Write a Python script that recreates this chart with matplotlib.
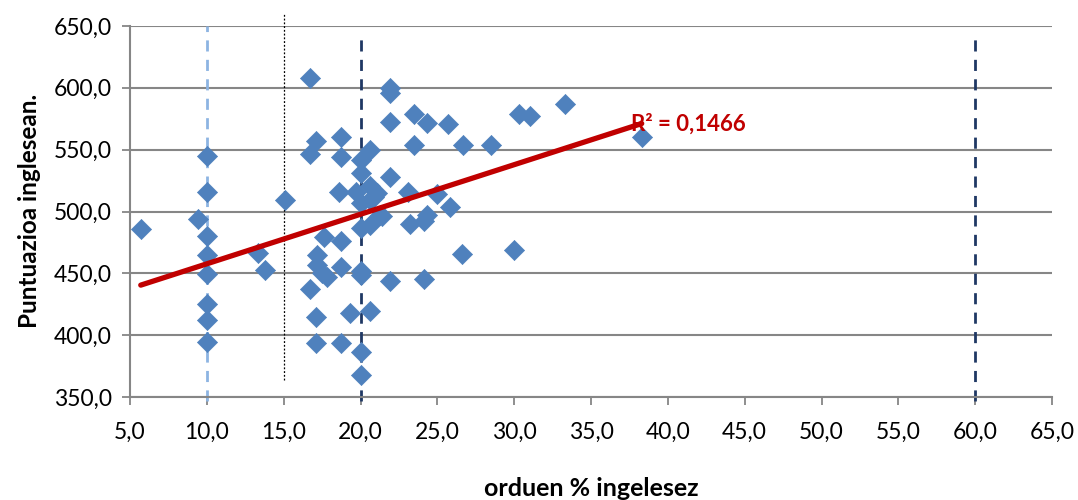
import numpy as np
import matplotlib
matplotlib.use("Agg")
import matplotlib.pyplot as plt
from matplotlib.ticker import FuncFormatter, MultipleLocator

# Data
hours_pct = [5.7, 10.0, 10.0, 9.4, 10.0, 10.0, 10.0, 10.0, 10.0, 10.0,
             13.35, 13.8, 15.1, 16.7, 21.9, 21.9, 21.9, 23.5, 24.3, 25.7,
             17.1, 18.76, 16.7, 18.76, 20.6, 23.5, 20.0, 20.0, 21.9, 18.6,
             19.7, 20.6, 21.1, 20.9, 20.0, 20.6, 23.1, 25.0, 25.8, 21.3,
             20.0, 20.6, 21.4, 23.2, 24.1, 24.3, 17.6, 18.7, 17.2, 17.2,
             17.8, 17.5, 18.7, 20.0, 20.0, 21.9, 24.1, 16.7, 17.1, 19.3,
             20.65, 17.1, 18.7, 20.0, 20.0, 26.7, 28.5, 30.3, 31.05, 33.3,
             26.6, 30.0, 38.3]
scores = [486, 545, 515.6, 494, 480.5, 465, 449.3, 425, 412.3, 394.7,
          466.8, 452.7, 509, 608.3, 600, 596, 572.7, 578.7, 571.4, 571,
          557, 560, 546.6, 544, 549.8, 553.9, 541.7, 531.5, 527.8, 515.5,
          516, 520.5, 514.8, 512, 506.7, 509, 516, 514, 504, 497,
          486.5, 489, 496, 490, 492, 497, 479.7, 476.5, 464.9, 456.8,
          446.8, 450.3, 455.4, 452.2, 449, 443.9, 445.5, 437.4, 414.5, 417.6,
          419.6, 393.9, 393.9, 386.7, 367.8, 553.9, 553.9, 578.7, 577.6, 587,
          465.7, 468.9, 560.6]
r2_label = "R² = 0,1466"
x_label = "orduen % ingelesez"
y_label = "Puntuazioa inglesean."

x = np.array(hours_pct)
y = np.array(scores)

plt.rcParams['font.family'] = ['Lato', 'DejaVu Sans']

fig = plt.figure(figsize=(10.78, 5.0), dpi=100)
ax = fig.add_axes([130/1078, 103/500, (1052-130)/1078, (397-26)/500])

ax.set_xlim(5, 65)
ax.set_ylim(350, 650)
ax.xaxis.set_major_locator(MultipleLocator(5))
ax.yaxis.set_major_locator(MultipleLocator(50))
fmt = FuncFormatter(lambda v, p: f"{v:.1f}".replace(".", ","))
ax.xaxis.set_major_formatter(fmt)
ax.yaxis.set_major_formatter(fmt)

ax.grid(axis='y', color='#868686', linewidth=1.5, zorder=0)
for s in ['top', 'right']:
    ax.spines[s].set_visible(False)
for s in ['left', 'bottom']:
    ax.spines[s].set_color('#868686')
    ax.spines[s].set_linewidth(1.5)
ax.tick_params(axis='both', colors='#868686', length=6, width=1.3,
               labelcolor='black', labelsize=16.5)
ax.tick_params(axis='x', pad=12)
ax.tick_params(axis='y', pad=7)

# reference lines
ax.plot([10, 10], [347, 650], color='#8DB4E2', lw=2, ls=(0, (4, 3)), zorder=2, clip_on=False)
ax.plot([15.05, 15.05], [364, 660], color='black', lw=0.9, ls=(0, (1.5, 1.5)), zorder=2, clip_on=False)
ax.plot([20, 20], [347, 645], color='#1F3864', lw=2, ls=(0, (4, 3)), zorder=2, clip_on=False)
ax.plot([60, 60], [347, 645], color='#1F3864', lw=2, ls=(0, (4, 3)), zorder=2, clip_on=False)

ax.scatter(x, y, marker='D', s=105, color='#4F81BD', edgecolors='#4F81BD',
           linewidths=0.5, zorder=3)

# linear trend line
k, b = np.polyfit(x, y, 1)
xt = np.array([x.min(), x.max()])
ax.plot(xt, k * xt + b, color='#C00000', lw=3.8, solid_capstyle='round', zorder=4)

ax.text(37.6, 571, r2_label, color='#C00000', fontsize=16, fontweight='bold',
        ha='left', va='center', zorder=5)

fig.text(30/1078, 1 - 211/500, y_label, rotation=90, fontsize=17.5,
         fontweight='bold', ha='center', va='center')
fig.text(591/1078, 1 - 488/500, x_label, fontsize=18, fontweight='bold',
         ha='center', va='center')

fig.savefig("out.png", dpi=100)
